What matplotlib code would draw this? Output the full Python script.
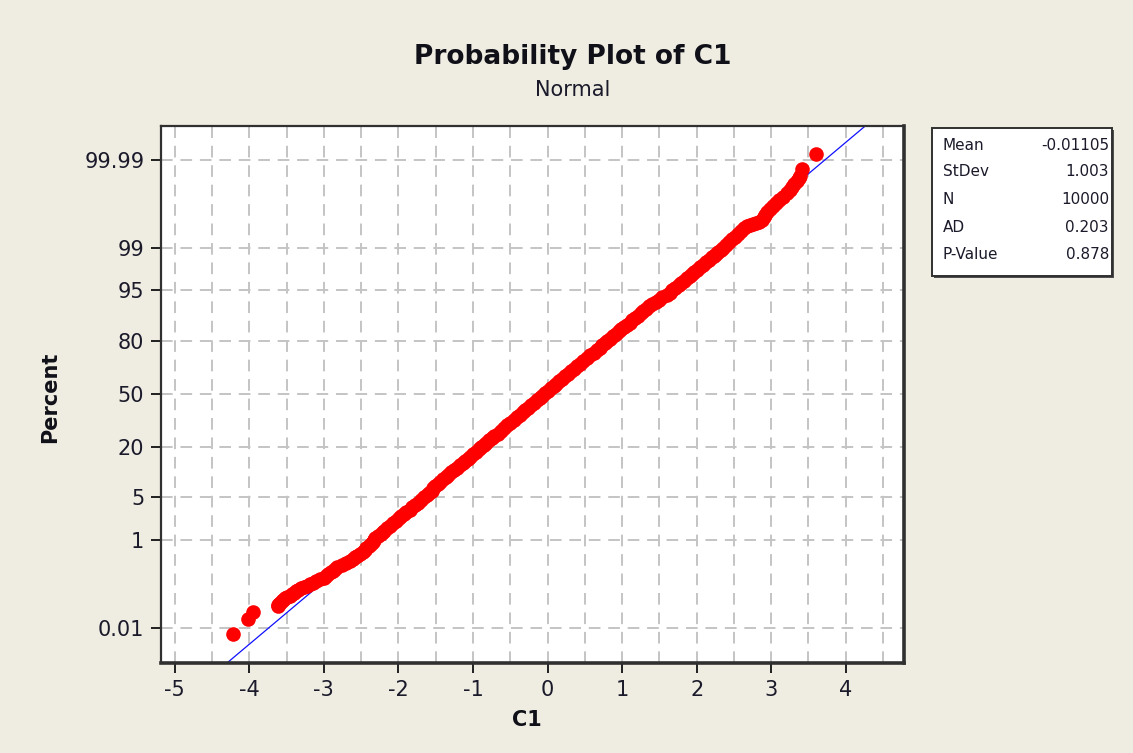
import numpy as np
import matplotlib
matplotlib.use("Agg")
import matplotlib.pyplot as plt
from matplotlib.patches import Rectangle
from matplotlib.ticker import FixedLocator, NullLocator
from statistics import NormalDist

# ---------------- data ----------------
# plotted positions of the (sorted) C1 sample: percent (y) and C1 value (x)
percent_values = [
    # isolated low points
    0.007, 0.017, 0.027,
    # lower tail
    0.037, 0.04, 0.043, 0.046, 0.05, 0.054, 0.058, 0.063, 0.068, 0.073,
    0.079, 0.085, 0.092, 0.1, 0.108, 0.116, 0.125, 0.135, 0.145, 0.16,
    0.175, 0.19, 0.21, 0.23, 0.25, 0.27, 0.3, 0.33, 0.36, 0.39,
    0.43, 0.47, 0.51, 0.56, 0.61, 0.67, 0.73, 0.8, 0.87, 0.95,
    # body
    1.0, 1.1, 1.2, 1.3, 1.4, 1.5, 1.65, 1.8, 2.0, 2.2,
    2.4, 2.6, 2.8, 3.0, 3.3, 3.6, 3.9, 4.2, 4.6, 5.0,
    5.4, 5.8, 6.2, 6.7, 7.2, 7.7, 8.2, 8.8, 9.4, 10.0,
    10.7, 11.4, 12.1, 12.8, 13.6, 14.4, 15.2, 16.0, 17.0, 18.0,
    19.0, 20.0, 21.0, 22.0, 23.0, 24.0, 25.0, 26.5, 28.0, 29.5,
    31.0, 32.5, 34.0, 35.5, 37.0, 38.5, 40.0, 41.5, 43.0, 44.5,
    46.0, 47.5, 49.0, 50.5, 52.0, 53.5, 55.0, 56.5, 58.0, 59.5,
    61.0, 62.5, 64.0, 65.5, 67.0, 68.5, 70.0, 71.5, 73.0, 74.5,
    76.0, 77.0, 78.0, 79.0, 80.0, 81.0, 82.0, 83.0, 84.0, 84.8,
    85.6, 86.4, 87.2, 87.9, 88.6, 89.3, 90.0, 90.6, 91.2, 91.8,
    92.3, 92.8, 93.3, 93.8, 94.2, 94.6, 95.0, 95.4, 95.8, 96.1,
    96.4, 96.7, 97.0, 97.2, 97.4, 97.6, 97.8, 98.0, 98.2, 98.35,
    98.5, 98.6, 98.7, 98.8, 98.9,
    # upper tail
    99.0, 99.1, 99.2, 99.3, 99.38, 99.45, 99.52, 99.58, 99.62, 99.64,
    99.655, 99.67, 99.69, 99.72, 99.75, 99.78, 99.81, 99.835, 99.86, 99.88,
    99.9, 99.915, 99.93, 99.94, 99.95, 99.958, 99.965, 99.97, 99.973,
    # isolated high points
    99.983, 99.993,
]
c1_values = [
    -4.22, -4.02, -3.95,
    -3.62, -3.61, -3.60, -3.585, -3.565, -3.545, -3.525, -3.49, -3.46, -3.43,
    -3.40, -3.37, -3.34, -3.30, -3.26, -3.22, -3.18, -3.145, -3.105, -3.05,
    -3.00, -2.97, -2.94, -2.91, -2.88, -2.855, -2.82, -2.76, -2.70, -2.645,
    -2.61, -2.58, -2.55, -2.52, -2.48, -2.45, -2.43, -2.40, -2.37, -2.34,
    -2.33, -2.31, -2.27, -2.24, -2.21, -2.19, -2.15, -2.11, -2.07, -2.03,
    -1.99, -1.96, -1.93, -1.90, -1.85, -1.82, -1.78, -1.74, -1.70, -1.66,
    -1.62, -1.59, -1.55, -1.53, -1.51, -1.47, -1.44, -1.40, -1.36, -1.33,
    -1.29, -1.25, -1.22, -1.18, -1.14, -1.11, -1.07, -1.04, -1.00, -0.96,
    -0.92, -0.89, -0.85, -0.82, -0.78, -0.75, -0.72, -0.67, -0.63, -0.58,
    -0.54, -0.50, -0.45, -0.41, -0.37, -0.33, -0.30, -0.26, -0.22, -0.18,
    -0.14, -0.10, -0.07, -0.03, 0.01, 0.05, 0.09, 0.12, 0.16, 0.20,
    0.24, 0.28, 0.32, 0.36, 0.40, 0.44, 0.48, 0.53, 0.57, 0.62,
    0.67, 0.70, 0.73, 0.77, 0.80, 0.84, 0.88, 0.92, 0.96, 0.99,
    1.03, 1.06, 1.10, 1.13, 1.17, 1.21, 1.25, 1.28, 1.32, 1.36,
    1.40, 1.45, 1.49, 1.54, 1.60, 1.64, 1.67, 1.71, 1.76, 1.79,
    1.83, 1.87, 1.91, 1.94, 1.97, 2.01, 2.04, 2.08, 2.13, 2.16,
    2.20, 2.23, 2.26, 2.29, 2.32,
    2.36, 2.40, 2.44, 2.48, 2.52, 2.56, 2.60, 2.64, 2.68, 2.72,
    2.76, 2.80, 2.84, 2.87, 2.90, 2.92, 2.95, 2.98, 3.02, 3.06,
    3.11, 3.16, 3.21, 3.25, 3.28, 3.31, 3.34, 3.37, 3.39,
    3.41, 3.60,
]

y_ticks = [0.01, 1, 5, 20, 50, 80, 95, 99, 99.99]
y_tick_labels = ["0.01", "1", "5", "20", "50", "80", "95", "99", "99.99"]
x_ticks = [-5, -4, -3, -2, -1, 0, 1, 2, 3, 4]

stat_names = ["Mean", "StDev", "N", "AD", "P-Value"]
stat_values = ["-0.01105", "1.003", "10000", "0.203", "0.878"]
fit_mean = -0.01105
fit_sd = 1.003

# ---------------- normal probability scale ----------------
nd = NormalDist()
_ppf = np.vectorize(nd.inv_cdf, otypes=[float])
_cdf = np.vectorize(nd.cdf, otypes=[float])


def forward(p):
    p = np.clip(np.asarray(p, dtype=float) / 100.0, 1e-15, 1 - 1e-15)
    return _ppf(p)


def inverse(z):
    return _cdf(np.asarray(z, dtype=float)) * 100.0


W, H = 1133, 753
bg = "#EFECE2"
fig = plt.figure(figsize=(W / 100, H / 100), dpi=100, facecolor=bg)

ax_l, ax_r, ax_t, ax_b = 161, 904, 126, 663
ax = fig.add_axes([ax_l / W, 1 - ax_b / H, (ax_r - ax_l) / W, (ax_b - ax_t) / H])
ax.set_facecolor("white")
ax.set_yscale("function", functions=(forward, inverse))

ax.set_xlim(-5.184, 4.781)
ax.set_ylim(inverse(-4.275), inverse(4.259))

# grid
for gx in np.arange(-5, 5, 0.5):
    ax.axvline(gx, color="#C4C4C4", lw=1.4, dashes=(6, 4), zorder=0)
for gy in y_ticks:
    ax.axhline(gy, color="#C4C4C4", lw=1.4, dashes=(6, 4), zorder=0)

# fitted normal line
fx = np.array([-5.3, 4.9])
ax.plot(fx, inverse((fx - fit_mean) / fit_sd), color="#1010FF", lw=0.9, zorder=2)

# data points
ax.plot(c1_values, percent_values, "o", color="#FF0000", ms=10.5, mew=0, zorder=3)

# ticks
ax.yaxis.set_major_locator(FixedLocator(y_ticks))
ax.yaxis.set_minor_locator(NullLocator())
ax.set_yticklabels(y_tick_labels)
ax.set_xticks(x_ticks)
ax.set_xticklabels([str(v) for v in x_ticks])
ax.tick_params(axis="both", direction="out", length=7, width=1.4,
               color="#202020", labelsize=15, labelcolor="#1A1A2A")
ax.tick_params(axis="y", pad=5)
ax.tick_params(axis="x", pad=5)

for side in ["left", "top"]:
    ax.spines[side].set_linewidth(1.6)
    ax.spines[side].set_color("#303030")
for side in ["right", "bottom"]:
    ax.spines[side].set_linewidth(2.6)
    ax.spines[side].set_color("#303030")

# titles and labels
fig.text(0.5055, 1 - 57 / H, "Probability Plot of C1", ha="center", va="center",
         fontsize=19, fontweight="bold", color="#101018")
fig.text(0.5055, 1 - 90 / H, "Normal", ha="center", va="center",
         fontsize=15, color="#1A1A2A")
fig.text(527 / W, 1 - 720 / H, "C1", ha="center", va="center",
         fontsize=15, fontweight="bold", color="#101018")
fig.text(50 / W, 1 - 397 / H, "Percent", ha="center", va="center",
         rotation=90, fontsize=15, fontweight="bold", color="#101018")

# stats box
bx_l, bx_r, bx_t, bx_b = 932, 1112, 128, 276
fig.patches.append(Rectangle((bx_l / W + 2 / W, 1 - bx_b / H - 2 / H),
                             (bx_r - bx_l) / W, (bx_b - bx_t) / H,
                             transform=fig.transFigure, facecolor="#505050",
                             edgecolor="none", zorder=1))
fig.patches.append(Rectangle((bx_l / W, 1 - bx_b / H),
                             (bx_r - bx_l) / W, (bx_b - bx_t) / H,
                             transform=fig.transFigure, facecolor="white",
                             edgecolor="#303030", lw=1.4, zorder=2))
row_y = [145, 172, 199, 227, 255]
for name, val, ry in zip(stat_names, stat_values, row_y):
    fig.text(943 / W, 1 - ry / H, name, ha="left", va="center", fontsize=11,
             color="#1A1A2A", zorder=3)
    fig.text(1109 / W, 1 - ry / H, val, ha="right", va="center", fontsize=11,
             color="#1A1A2A", zorder=3)

fig.savefig("out.png", dpi=100, facecolor=bg)
